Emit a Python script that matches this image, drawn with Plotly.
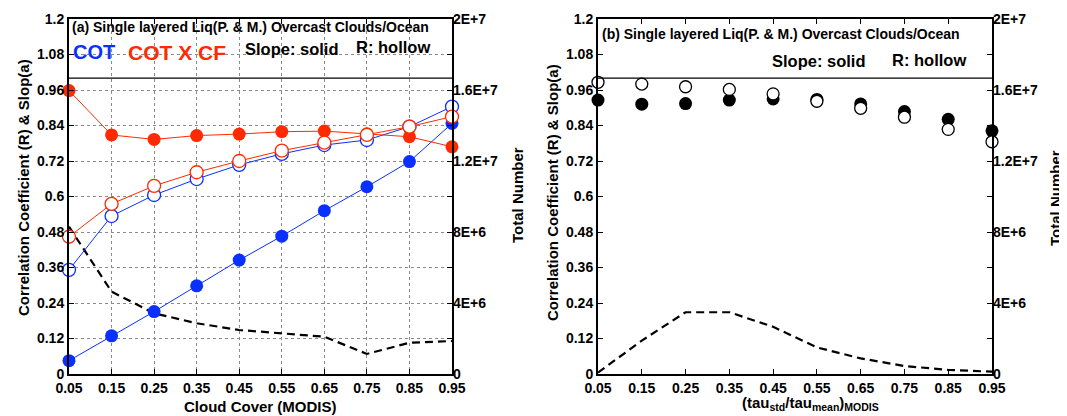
import plotly.graph_objects as go

# ---------------- data ----------------
x_cf = [0.05, 0.15, 0.25, 0.35, 0.45, 0.55, 0.65, 0.75, 0.85, 0.95]
x_tick_labels = ["0.05", "0.15", "0.25", "0.35", "0.45", "0.55", "0.65", "0.75", "0.85", "0.95"]

cot_slope = [0.045, 0.129, 0.211, 0.298, 0.385, 0.466, 0.552, 0.633, 0.718, 0.847]
cot_r = [0.352, 0.534, 0.605, 0.659, 0.707, 0.744, 0.774, 0.791, 0.836, 0.904]
cotcf_slope = [0.958, 0.808, 0.793, 0.806, 0.811, 0.819, 0.821, 0.812, 0.802, 0.768]
cotcf_r = [0.464, 0.575, 0.636, 0.682, 0.720, 0.755, 0.782, 0.808, 0.836, 0.870]
count_a = [8.3e6, 4.64e6, 3.42e6, 2.86e6, 2.48e6, 2.29e6, 2.10e6, 1.13e6, 1.76e6, 1.86e6]

x_tau = [0.05, 0.15, 0.25, 0.35, 0.45, 0.55, 0.65, 0.75, 0.85, 0.95]
b_slope = [0.926, 0.912, 0.914, 0.926, 0.930, 0.928, 0.913, 0.887, 0.861, 0.822]
b_r = [0.986, 0.980, 0.971, 0.962, 0.947, 0.922, 0.898, 0.868, 0.827, 0.785]
count_b = [0.08e6, 1.88e6, 3.48e6, 3.48e6, 2.66e6, 1.50e6, 0.88e6, 0.45e6, 0.23e6, 0.13e6]

y_tick_vals = [0, 0.12, 0.24, 0.36, 0.48, 0.6, 0.72, 0.84, 0.96, 1.08, 1.2]
y_tick_labels = ["0", "0.12", "0.24", "0.36", "0.48", "0.6", "0.72", "0.84", "0.96", "1.08", "1.2"]
n_tick_vals = [0, 4e6, 8e6, 1.2e7, 1.6e7, 2e7]
n_tick_labels = ["0", "4E+6", "8E+6", "1.2E+7", "1.6E+7", "2E+7"]

# ---------------- style ----------------
BLUE = "#0a30ff"
RED = "#ff2a00"
FONT = "Liberation Sans"
OFF = 8                      # page body margin
W, H = 1067 - OFF, 416 - OFF
MS = 13


def px(xp):
    return (xp - OFF) / W


def py(yp):
    return 1 - (yp - OFF) / H


fig = go.Figure()

# Left panel: count on base axis y (right side), correlation on y2 (left side, overlay)
fig.add_trace(go.Scatter(x=x_cf, y=count_a, xaxis="x", yaxis="y", mode="lines",
                         line=dict(color="black", width=2.2, dash="8px,5px"),
                         cliponaxis=False, showlegend=False))
fig.add_trace(go.Scatter(x=x_cf, y=cot_r, xaxis="x", yaxis="y2", mode="lines+markers",
                         line=dict(color=BLUE, width=1),
                         marker=dict(size=MS, color="white", line=dict(color=BLUE, width=1.3)),
                         cliponaxis=False, showlegend=False))
fig.add_trace(go.Scatter(x=x_cf, y=cot_slope, xaxis="x", yaxis="y2", mode="lines+markers",
                         line=dict(color=BLUE, width=1),
                         marker=dict(size=MS, color=BLUE),
                         cliponaxis=False, showlegend=False))
fig.add_trace(go.Scatter(x=x_cf, y=cotcf_slope, xaxis="x", yaxis="y2", mode="lines+markers",
                         line=dict(color=RED, width=1),
                         marker=dict(size=MS, color=RED),
                         cliponaxis=False, showlegend=False))
fig.add_trace(go.Scatter(x=x_cf, y=cotcf_r, xaxis="x", yaxis="y2", mode="lines+markers",
                         line=dict(color=RED, width=1),
                         marker=dict(size=MS, color="white", line=dict(color=RED, width=1.3)),
                         cliponaxis=False, showlegend=False))

# Right panel
fig.add_trace(go.Scatter(x=x_tau, y=count_b, xaxis="x2", yaxis="y3", mode="lines",
                         line=dict(color="black", width=2.2, dash="8px,5px"),
                         cliponaxis=False, showlegend=False))
fig.add_trace(go.Scatter(x=x_tau, y=b_slope, xaxis="x2", yaxis="y4", mode="markers",
                         marker=dict(size=MS, color="black"),
                         cliponaxis=False, showlegend=False))
fig.add_trace(go.Scatter(x=x_tau, y=b_r, xaxis="x2", yaxis="y4", mode="markers",
                         marker=dict(size=MS - 1, color="white", line=dict(color="black", width=1.3)),
                         cliponaxis=False, showlegend=False))

tickfont = dict(family=FONT, size=14, color="black", weight="bold")
dom_y = [py(374), py(19)]


def xaxis_cfg(domain, anchor, grid):
    return dict(domain=domain, anchor=anchor, range=[0.05, 0.95], automargin=False,
                tickvals=x_cf, ticktext=x_tick_labels, ticks="inside", ticklen=5,
                tickcolor="black", showline=True, linecolor="black", linewidth=2,
                mirror="ticks", showgrid=grid, gridcolor="#8a8a8a", griddash="dot",
                gridwidth=1, zeroline=False, tickfont=tickfont)


def ycount_cfg(anchor):
    return dict(domain=dom_y, anchor=anchor, side="right", range=[0, 2e7], automargin=False,
                tickvals=n_tick_vals, ticktext=n_tick_labels, ticks="inside", ticklen=5,
                tickcolor="black", showline=False, showgrid=False, zeroline=False,
                tickfont=tickfont)


def ycorr_cfg(anchor, over, grid):
    return dict(overlaying=over, anchor=anchor, side="left", range=[0, 1.2], automargin=False,
                tickvals=y_tick_vals, ticktext=y_tick_labels, ticks="inside", ticklen=5,
                tickcolor="black", showline=True, linecolor="black", linewidth=2,
                mirror="ticks", showgrid=grid, gridcolor="#8a8a8a", griddash="dot",
                gridwidth=1, zeroline=False, tickfont=tickfont)


fig.update_layout(
    width=W, height=H,
    margin=dict(l=0, r=0, t=0, b=0, autoexpand=False),
    paper_bgcolor="white", plot_bgcolor="white",
    font=dict(family=FONT, color="black"),
    xaxis=xaxis_cfg([px(69), px(452)], "y", True),
    yaxis=ycount_cfg("x"),
    yaxis2=ycorr_cfg("x", "y", True),
    xaxis2=xaxis_cfg([px(598), px(992)], "y3", False),
    yaxis3=ycount_cfg("x2"),
    yaxis4=ycorr_cfg("x2", "y3", False),
    showlegend=False,
)

# separator line at 1.0 in both panels
for xr, yr in (("x domain", "y2"), ("x2 domain", "y4")):
    fig.add_shape(type="line", xref=xr, yref=yr, x0=0, x1=1, y0=1.0, y1=1.0,
                  line=dict(color="black", width=1.2))


def txt(text, xp, yp, size, color="black", xanchor="left", angle=0):
    fig.add_annotation(text="<b>%s</b>" % text, x=px(xp), y=py(yp), xref="paper", yref="paper",
                       xanchor=xanchor, yanchor="middle", showarrow=False, textangle=angle,
                       font=dict(family=FONT, size=size, color=color))


txt("(a) Single layered Liq(P. &amp; M.) Overcast Clouds/Ocean", 70, 27, 14)
txt("COT", 71, 52, 20, BLUE)
txt("COT X CF", 126, 52, 21, RED)
txt("Slope: solid", 243, 49, 16.5)
txt("R: hollow", 354, 47, 16.5)

txt("(b) Single layered Liq(P. &amp; M.) Overcast Clouds/Ocean", 600, 34, 14)
txt("Slope: solid", 770, 61, 16.5)
txt("R: hollow", 890, 60, 16.5)

txt("Correlation Coefficient (R) &amp; Slop(a)", 23, 188, 15, xanchor="center", angle=-90)
txt("Total Number", 518, 195, 15, xanchor="center", angle=-90)
txt("Correlation Coefficient (R) &amp; Slop(a)", 553, 193, 15, xanchor="center", angle=-90)
txt("Total Number", 1055, 198, 15, xanchor="center", angle=-90)
txt("Cloud Cover (MODIS)", 260, 406, 15, xanchor="center")
txt("(tau<sub>std</sub>/tau<sub>mean</sub>)<sub>MODIS</sub>", 810, 403, 15, xanchor="center")

fig.write_html("out.html")
